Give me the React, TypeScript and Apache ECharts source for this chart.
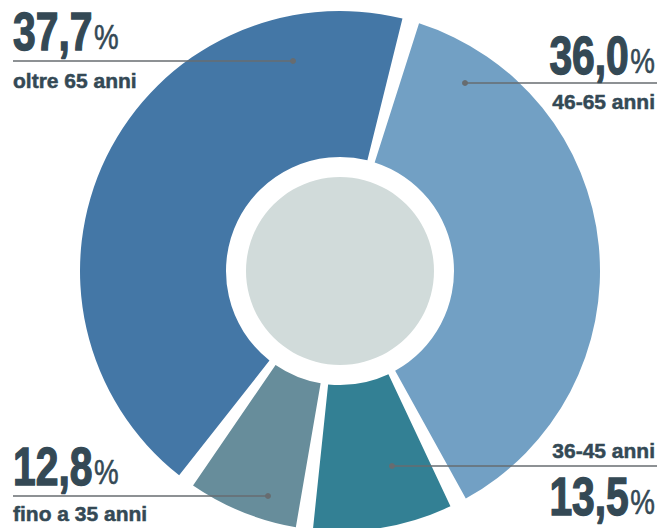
import React, { useEffect, useRef } from 'react';
import * as echarts from 'echarts';

const ageGroups = ['46-65 anni', '36-45 anni', 'fino a 35 anni', 'oltre 65 anni'];
const printedShares = [36.0, 13.5, 12.8, 37.7];
const arcShares = [38.1, 9.7, 7.9, 44.3];
const sliceColors = ['#72a0c4', '#338094', '#678d9b', '#4477a6'];

const TEXT = '#344955';
const LINE = '#676c70';
const NUM_FONT = "'Liberation Sans', Arial, sans-serif";
const SUB_FONT = "'Liberation Sans', Arial, sans-serif";

type Lay = { align: 'left' | 'right'; x: number; numBottom: number; lineY: number; dotX: number; subBottom: number };
const layouts: Lay[] = [
  { align: 'right', x: 655, numBottom: 74, lineY: 83, dotX: 465, subBottom: 108 },
  { align: 'right', x: 655, numBottom: 515, lineY: 466, dotX: 392, subBottom: 457 },
  { align: 'left', x: 13, numBottom: 485, lineY: 496, dotX: 268, subBottom: 520 },
  { align: 'left', x: 13, numBottom: 50, lineY: 61, dotX: 293, subBottom: 87 },
];

function fmt(v: number) {
  return v.toFixed(1).replace('.', ',');
}

export default function App() {
  const ref = useRef<HTMLDivElement>(null);
  useEffect(() => {
    document.body.style.margin = '0';
    const chart = echarts.init(ref.current!, null, { renderer: 'svg' });
    const graphics: any[] = [];
    layouts.forEach((l, i) => {
      const lineStart = l.align === 'left' ? l.x : l.dotX;
      const lineEnd = l.align === 'left' ? l.dotX : l.x + 2;
      graphics.push({
        type: 'line',
        shape: { x1: lineStart, y1: l.lineY, x2: lineEnd, y2: l.lineY },
        style: { stroke: LINE, lineWidth: 1.6 },
        z: 10,
      });
      graphics.push({
        type: 'circle',
        shape: { cx: l.dotX, cy: l.lineY, r: 3 },
        style: { fill: LINE },
        z: 10,
      });
      graphics.push({
        type: 'text',
        x: l.x,
        y: l.numBottom + 8,
        scaleX: 0.77,
        z: 10,
        style: {
          text: `{n|${fmt(printedShares[i])}}{p|%}`,
          align: l.align,
          verticalAlign: 'bottom',
          rich: {
            n: { fontFamily: NUM_FONT, fontWeight: 'bold', fontSize: 53, fill: TEXT, stroke: TEXT, lineWidth: 1.4, lineHeight: 56, verticalAlign: 'bottom' },
            p: { fontFamily: NUM_FONT, fontWeight: 'normal', fontSize: 36, fill: TEXT, stroke: TEXT, lineWidth: 0.6, lineHeight: 40, verticalAlign: 'bottom', padding: [0, 0, 3, 2] },
          },
        },
      });
      graphics.push({
        type: 'text',
        x: l.x,
        y: l.subBottom + 4,
        z: 10,
        style: {
          text: ageGroups[i],
          align: l.align,
          verticalAlign: 'bottom',
          fontFamily: SUB_FONT,
          fontWeight: 'bold',
          fontSize: 21,
          fill: TEXT,
          stroke: TEXT,
          lineWidth: 0.5,
        },
      });
    });

    chart.setOption({
      animation: false,
      series: [
        {
          type: 'pie',
          center: [340, 271],
          radius: [114, 260],
          startAngle: 74.2,
          clockwise: true,
          padAngle: 3.8,
          silent: true,
          label: { show: false },
          labelLine: { show: false },
          data: ageGroups.map((name, i) => ({ name, value: arcShares[i], itemStyle: { color: sliceColors[i] } })),
        },
        {
          type: 'pie',
          center: [340, 271],
          radius: [0, 94],
          silent: true,
          label: { show: false },
          labelLine: { show: false },
          data: [{ name: 'centro', value: 1, itemStyle: { color: '#d1dbda' } }],
        },
      ],
      graphic: graphics,
    });
    return () => chart.dispose();
  }, []);
  return <div ref={ref} style={{ width: 667, height: 528 }} />;
}
